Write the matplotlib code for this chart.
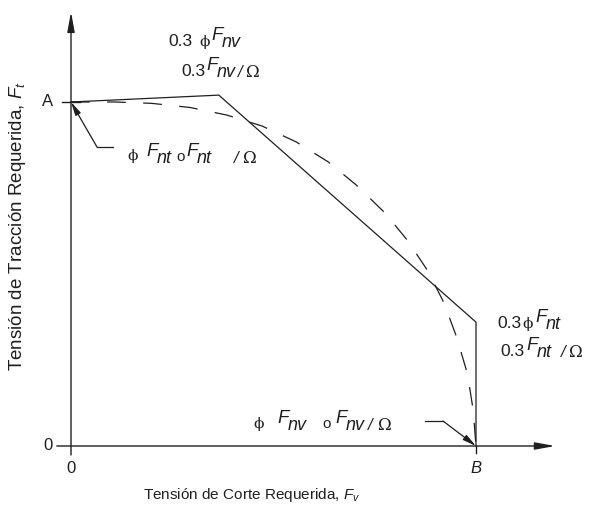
import matplotlib
matplotlib.use("Agg")
import matplotlib.pyplot as plt

plt.rcParams["lines.scale_dashes"] = False
plt.rcParams["mathtext.fontset"] = "custom"
plt.rcParams["mathtext.rm"] = "Liberation Sans"
plt.rcParams["mathtext.it"] = "Liberation Sans:italic"

W, H, DPI = 593, 509, 100

# Interaction diagram, shear on x (fraction of B), tension on y (fraction of A)
trilinear_shear = [0.0, 0.365, 1.0, 1.0]
trilinear_tension = [1.0, 1.02, 0.36, 0.0]

elliptic_shear = [0.0, 0.11, 0.2, 0.294, 0.385, 0.472, 0.556, 0.635, 0.704,
                  0.774, 0.83, 0.881, 0.921, 0.953, 0.979, 0.993, 1.0]
elliptic_tension = [1.0, 1.0, 0.996, 0.984, 0.962, 0.930, 0.884, 0.826, 0.759,
                    0.679, 0.599, 0.509, 0.416, 0.314, 0.209, 0.105, 0.0]

y_tick_labels = ["0", "A"]
y_tick_values = [0.0, 1.0]
x_tick_labels = ["0", "B"]
x_tick_values = [0.0, 1.0]

INK = "#1f1f1f"
SANS = "Liberation Sans"
SERIF = "DejaVu Serif"

fig = plt.figure(figsize=(W / DPI, H / DPI), dpi=DPI)
ax = fig.add_axes([0, 0, 1, 1])
ax.set_xlim(-71 / 405, (W - 71) / 405)
ax.set_ylim(-(H - 446) / 344, 446 / 344)
ax.axis("off")

# axes with arrow heads
ax.annotate("", xy=(0, 1.262), xytext=(0, -0.026),
            arrowprops=dict(arrowstyle="-|>,head_length=1.2,head_width=0.22",
                            lw=1.0, color=INK, shrinkA=0, shrinkB=0))
ax.annotate("", xy=(1.195, 0), xytext=(-0.035, 0),
            arrowprops=dict(arrowstyle="-|>,head_length=1.2,head_width=0.22",
                            lw=1.0, color=INK, shrinkA=0, shrinkB=0))

# tick marks and labels
ax.plot([-0.022, 0.022], [1.0, 1.0], color=INK, lw=1.0)
ax.plot([1.0, 1.0], [0.0, -0.02], color=INK, lw=1.0)
for lab, v in zip(y_tick_labels, y_tick_values):
    ax.text(-0.057, v, lab, ha="center", va="center", fontsize=12,
            family=SANS, color=INK)
for lab, v in zip(x_tick_labels, x_tick_values):
    ax.text(v, -0.065, lab, ha="center", va="center", fontsize=12,
            family=SANS, color=INK, style="italic" if lab == "B" else "normal")

# curves
ax.plot(trilinear_shear, trilinear_tension, color=INK, lw=0.9)
ax.plot(elliptic_shear, elliptic_tension, color=INK, lw=0.9,
        linestyle=(0, (13.5, 12.5)))

# axis titles
ax.text(-0.133, 0.64, r"Tensión de Tracción Requerida, $F_t$", rotation=90,
        ha="center", va="center", fontsize=13.5, family=SANS, color=INK)
ax.text(0.447, -0.142, r"Tensión de Corte Requerida, $F_v$",
        ha="center", va="center", fontsize=11, family=SANS, color=INK)


def fx(px):
    return (px - 71) / 405


def fy(py):
    return (446 - py) / 344


def run(px, py, s, kind="sans", size=12.5):
    kw = dict(ha="left", va="baseline", color=INK, fontsize=size)
    if kind == "sans":
        kw.update(family=SANS)
    elif kind == "it":
        kw.update(family=SANS, style="italic")
    else:
        kw.update(family=SERIF)
    ax.text(fx(px), fy(py), s, **kw)


# upper knee label
run(168, 46, "0.3")
run(199, 46, "ϕ", "serif", 11)
run(211, 40, "F", "it", 13.5)
run(222, 47, "nv", "it", 13)
run(181, 76, "0.3")
run(206, 70, "F", "it", 13.5)
run(217, 77, "nv", "it", 13)
run(238, 77, "/", "it", 12)
run(246, 77, "Ω", "serif", 12)

# right knee label
run(497, 328, "0.3")
run(522, 328, "ϕ", "serif", 11)
run(535, 322, "F", "it", 13.5)
run(546, 329, "nt", "it", 13)
run(500, 356, "0.3")
run(526, 350, "F", "it", 13.5)
run(537, 357, "nt", "it", 13)
run(561, 357, "/", "it", 12)
run(569, 357, "Ω", "serif", 12)

# tension capacity label with leader to A
run(127, 160, "ϕ", "serif", 11)
run(146, 156, "F", "it", 13.5)
run(157, 163, "nt", "it", 13)
run(176, 161, "o", "sans", 11)
run(186, 156, "F", "it", 13.5)
run(197, 163, "nt", "it", 13)
run(234, 163, "/", "it", 12)
run(243, 163, "Ω", "serif", 12)
ax.plot([fx(97), fx(113)], [fy(147), fy(147)], color=INK, lw=0.9)
ax.annotate("", xy=(0, 1.0), xytext=(fx(97), fy(147)),
            arrowprops=dict(arrowstyle="-|>,head_length=0.8,head_width=0.18",
                            lw=0.9, color=INK, shrinkA=0, shrinkB=0))

# shear capacity label with leader to B
run(253, 428, "ϕ", "serif", 11)
run(277, 423, "F", "it", 13.5)
run(288, 430, "nv", "it", 13)
run(322, 428, "o", "sans", 11)
run(335, 423, "F", "it", 13.5)
run(346, 430, "nv", "it", 13)
run(368, 430, "/", "it", 12)
run(378, 430, "Ω", "serif", 12)
ax.plot([fx(425), fx(443)], [fy(421), fy(421)], color=INK, lw=0.9)
ax.annotate("", xy=(1.0, 0.0), xytext=(fx(443), fy(421)),
            arrowprops=dict(arrowstyle="-|>,head_length=0.8,head_width=0.18",
                            lw=0.9, color=INK, shrinkA=0, shrinkB=0))

fig.savefig("out.png", dpi=DPI)
